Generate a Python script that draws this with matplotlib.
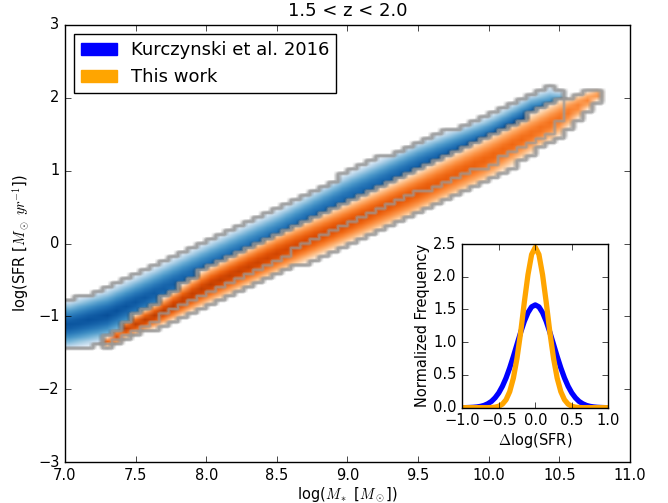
import numpy as np
import matplotlib
matplotlib.use('Agg')
import matplotlib.pyplot as plt
from matplotlib.patches import Patch

# ridge of each band in the (mass, SFR) plane
blue_mass = [6.95, 7.3, 7.6, 8.0, 8.5, 9.0, 9.5, 10.0, 10.3, 10.45, 10.53]
blue_sfr = [-1.16, -0.99, -0.72, -0.33, 0.12, 0.62, 1.05, 1.41, 1.72, 1.82, 1.92]
blue_width = [0.34, 0.37, 0.37, 0.35, 0.34, 0.35, 0.35, 0.34, 0.33, 0.32, 0.18]
blue_peak = [0.86, 0.88, 0.84, 0.8, 0.78, 0.8, 0.82, 0.88, 0.9, 0.82, 0.6]

orange_mass = [7.27, 7.35, 7.44, 7.67, 8.0, 8.5, 9.0, 9.5, 10.0, 10.5, 10.65, 10.8]
orange_sfr = [-1.38, -1.31, -1.17, -0.97, -0.60, -0.15, 0.27, 0.70, 1.16, 1.71, 1.89, 2.07]
orange_width = [0.05, 0.10, 0.13, 0.18, 0.26, 0.29, 0.29, 0.30, 0.31, 0.26, 0.16, 0.07]
orange_peak = [0.6, 0.74, 0.82, 0.84, 0.82, 0.77, 0.74, 0.7, 0.66, 0.6, 0.55, 0.48]

# shape of the band across its width (-1 bottom edge, +1 top edge)
profile_offset = [-1.0, -0.8, -0.6, -0.4, -0.2, 0.0, 0.2, 0.4, 0.6, 0.8, 1.0]
profile_level = [0.12, 0.38, 0.62, 0.8, 0.93, 1.0, 0.93, 0.8, 0.62, 0.38, 0.12]

# inset: scatter about the relation
dsfr = [-1.0, -0.95, -0.9, -0.85, -0.8, -0.75, -0.7, -0.65, -0.6, -0.55, -0.5,
        -0.45, -0.4, -0.35, -0.3, -0.25, -0.2, -0.15, -0.1, -0.05, 0.0,
        0.05, 0.1, 0.15, 0.2, 0.25, 0.3, 0.35, 0.4, 0.45, 0.5,
        0.55, 0.6, 0.65, 0.7, 0.75, 0.8, 0.85, 0.9, 0.95, 1.0]
freq_kurczynski = [0.0, 0.001, 0.003, 0.006, 0.011, 0.02, 0.035, 0.06, 0.096, 0.151, 0.226,
                   0.327, 0.454, 0.608, 0.782, 0.968, 1.151, 1.319, 1.452, 1.54, 1.57,
                   1.54, 1.452, 1.319, 1.151, 0.968, 0.782, 0.608, 0.454, 0.327, 0.226,
                   0.151, 0.096, 0.06, 0.035, 0.02, 0.011, 0.006, 0.003, 0.001, 0.0]
freq_this_work = [0.0, 0.0, 0.0, 0.0, 0.0, 0.0, 0.0, 0.0, 0.003, 0.008, 0.022,
                  0.054, 0.121, 0.245, 0.451, 0.756, 1.15, 1.61, 2.03, 2.34, 2.45,
                  2.34, 2.03, 1.61, 1.15, 0.756, 0.451, 0.245, 0.121, 0.054, 0.022,
                  0.008, 0.003, 0.0, 0.0, 0.0, 0.0, 0.0, 0.0, 0.0, 0.0]

plt.style.use('classic')
plt.rcParams['figure.facecolor'] = 'white'
plt.rcParams['font.size'] = 10.5
plt.rcParams['xtick.labelsize'] = 10.5
plt.rcParams['ytick.labelsize'] = 10.5

# histogram grid
x_edges = np.linspace(7, 11, 61)
y_edges = np.linspace(-3, 3, 101)
xc = 0.5 * (x_edges[1:] + x_edges[:-1])
yc = 0.5 * (y_edges[1:] + y_edges[:-1])
X, Y = np.meshgrid(xc, yc)


def band(mass, sfr, width, peak):
    ridge = np.interp(X, mass, sfr)
    hw = np.interp(X, mass, width)
    d = (Y - ridge) / hw
    inside = (np.abs(d) <= 1) & (X >= mass[0]) & (X <= mass[-1])
    level = np.interp(d, profile_offset, profile_level) * np.interp(X, mass, peak)
    return np.ma.masked_where(~inside, level), inside


def outline(ax, inside, k=6):
    # staircase edge of the occupied bins, drawn soft grey
    up = np.kron(inside.astype(float), np.ones((k, k)))
    xs = 7 + (np.arange(up.shape[1]) + 0.5) * (4.0 / up.shape[1])
    ys = -3 + (np.arange(up.shape[0]) + 0.5) * (6.0 / up.shape[0])
    ax.contour(xs, ys, up, levels=[0.5], colors='0.62', linewidths=3.2, alpha=0.3)
    ax.contour(xs, ys, up, levels=[0.5], colors='0.6', linewidths=1.5, alpha=0.6)


fig = plt.figure(figsize=(6.68, 5.03), dpi=100)
ax = fig.add_axes([0.0973, 0.0815, 0.8458, 0.8688])

blue_img, blue_in = band(blue_mass, blue_sfr, blue_width, blue_peak)
orange_img, orange_in = band(orange_mass, orange_sfr, orange_width, orange_peak)

ax.imshow(blue_img, cmap='Blues', vmin=0, vmax=1, origin='lower', extent=[7, 11, -3, 3],
          aspect='auto', interpolation='bilinear', interpolation_stage='rgba')
outline(ax, blue_in)
ax.imshow(orange_img, cmap='Oranges', vmin=0, vmax=1, origin='lower', extent=[7, 11, -3, 3],
          aspect='auto', interpolation='bilinear', interpolation_stage='rgba')
outline(ax, orange_in)

ax.set_xlim(7, 11)
ax.set_ylim(-3, 3)
ax.set_xticks(np.arange(7, 11.01, 0.5))
ax.set_xticklabels(['%.1f' % v for v in np.arange(7, 11.01, 0.5)])
ax.set_yticks(np.arange(-3, 4, 1))
ax.set_xlabel(r'log($M_*$ [$M_\odot$])', fontsize=10.5, labelpad=2)
ax.set_ylabel(r'log(SFR [$M_\odot\ yr^{-1}$])', fontsize=10.5)
ax.set_title('1.5 < z < 2.0', fontsize=13, y=1.005)

handles = [Patch(facecolor='blue', edgecolor='blue', label='Kurczynski et al. 2016'),
           Patch(facecolor='orange', edgecolor='orange', label='This work')]
ax.legend(handles=handles, loc='upper left', fontsize=13, frameon=True,
          borderaxespad=0.5, handletextpad=0.75)

# inset
axi = fig.add_axes([0.692, 0.1895, 0.2186, 0.3254])
axi.plot(dsfr, freq_kurczynski, color='blue', lw=3.8)
axi.plot(dsfr, freq_this_work, color='orange', lw=3.8)
axi.set_xlim(-1, 1)
axi.set_ylim(0, 2.5)
axi.set_xticks([-1.0, -0.5, 0.0, 0.5, 1.0])
axi.set_yticks([0.0, 0.5, 1.0, 1.5, 2.0, 2.5])
axi.set_xlabel(r'$\Delta$log(SFR)', fontsize=10.5, labelpad=2)
axi.set_ylabel('Normalized Frequency', fontsize=10.5, labelpad=2)

fig.savefig('out.png', dpi=100, facecolor='white')
